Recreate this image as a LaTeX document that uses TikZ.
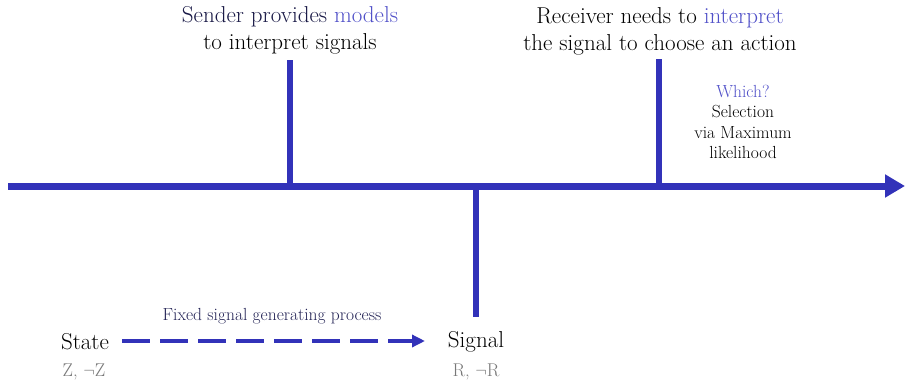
\documentclass[tikz,border=0pt]{standalone}
\usetikzlibrary{arrows.meta}
\definecolor{axisblue}{RGB}{50,50,185}
\definecolor{hlblue}{RGB}{80,80,200}
\definecolor{navy}{RGB}{25,25,70}
\definecolor{procc}{RGB}{35,35,85}
\definecolor{graytxt}{RGB}{120,120,120}
\tikzset{
  axisline/.style={line width=7pt, axisblue},
  tickline/.style={line width=6.5pt, axisblue},
  bigtxt/.style={font=\fontsize{23}{27}\selectfont, align=center, inner sep=0pt},
  smalltxt/.style={font=\fontsize{17.5}{20.5}\selectfont, align=center, inner sep=0pt},
  subtxt/.style={font=\fontsize{18.5}{20}\selectfont, text=graytxt, inner sep=0pt},
}
\begin{document}
\begin{tikzpicture}[x=1pt,y=-1pt]
\useasboundingbox (0,0) rectangle (905,383);
\coordinate (a0) at (8,186);
\coordinate (a1) at (905,186);
\coordinate (t1top) at (290,60);
\coordinate (t1bot) at (290,186);
\coordinate (t2top) at (659,59);
\coordinate (t2bot) at (659,186);
\coordinate (t3top) at (476,186);
\coordinate (t3bot) at (476,317);
\draw[axisline, -{Triangle[length=20pt,width=22pt]}] (a0) -- (a1);
\draw[tickline] (t1top) -- (t1bot);
\draw[tickline] (t2top) -- (t2bot);
\draw[tickline] (t3top) -- (t3bot);
\node[bigtxt] (sender) at (290,30) {\textcolor{navy}{Sender provides} \textcolor{hlblue}{models}\\to interpret signals};
\node[bigtxt] (receiver) at (660,31) {Receiver needs to \textcolor{hlblue}{interpret}\\the signal to choose an action};
\node[smalltxt] (which) at (743,122) {\textcolor{hlblue}{Which?}\\Selection\\via Maximum\\likelihood};
\node[bigtxt] (state) at (85,342) {State};
\node[subtxt] (stsub) at (84,372) {Z, $\neg$Z};
\node[bigtxt] (signal) at (476,342) {Signal};
\node[subtxt] (sgsub) at (476,372) {R, $\neg$R};
\node[smalltxt, text=procc] (proc) at (272,316) {Fixed signal generating process};
\coordinate (ds) at (122,341);
\coordinate (de) at (425,341);
\draw[line width=4pt, axisblue, dash pattern=on 28pt off 10pt, -{Triangle[length=13pt,width=12pt]}] (ds) -- (de);
\end{tikzpicture}
\end{document}
